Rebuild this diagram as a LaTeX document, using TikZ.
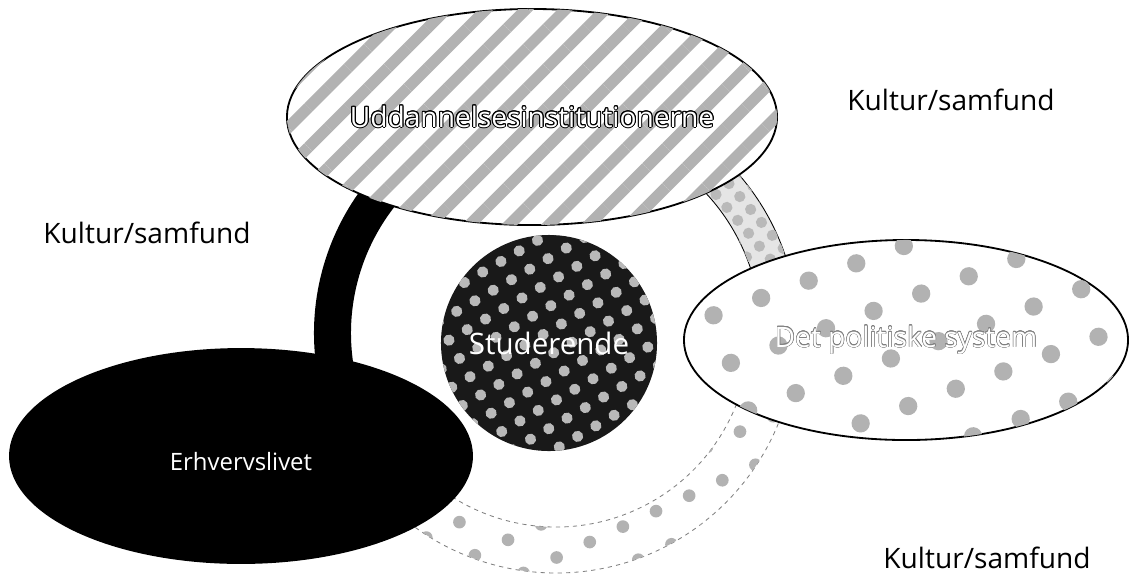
\documentclass[tikz,border=0pt]{standalone}
\usepackage{fontspec}
\setmainfont{Open Sans}
\usepackage{contour}
\usetikzlibrary{shapes.geometric,patterns.meta}
\contourlength{0.7pt}

\begin{document}
\begin{tikzpicture}[
  x=0.025cm, y=-0.025cm,
  every node/.style={font=\fontsize{20}{23}\selectfont},
  sphere/.style={ellipse,draw,line width=1.3pt,inner sep=0pt},
  kultur/.style={text=black},
]
  \useasboundingbox (0,0) rectangle (1130,575);
  \coordinate (hub) at (556,333);

  % ringen
  \filldraw[fill=gray!20,line width=0.6pt,
    postaction={pattern={Dots[radius=4pt,distance=12pt,angle=40]},pattern color=gray!55}]
    ([shift={(290:242)}]hub) arc[start angle=290,end angle=355,radius=242]
    -- ([shift={(355:205)}]hub) arc[start angle=355,end angle=290,radius=205] -- cycle;
  \filldraw[fill=white,draw=gray,line width=0.6pt,dashed,
    postaction={pattern={Dots[radius=4.5pt,distance=26pt,angle=25]},pattern color=gray!60}]
    ([shift={(0:240)}]hub) arc[start angle=0,end angle=150,radius=240]
    -- ([shift={(150:194)}]hub) arc[start angle=150,end angle=0,radius=194] -- cycle;
  \fill[black]
    ([shift={(160:242)}]hub) arc[start angle=160,end angle=240,radius=242]
    -- ([shift={(240:205)}]hub) arc[start angle=240,end angle=160,radius=205] -- cycle;

  \node[sphere,fill=white,minimum width=12.25cm,minimum height=5.4cm,
    postaction={pattern={Lines[angle=45,distance=20pt,line width=8pt]},pattern color=gray!60}]
    (uddannelse) at (532,117) {};
  \node[sphere,fill=white,minimum width=11.1cm,minimum height=5cm,
    postaction={pattern={Dots[radius=6.5pt,distance=36pt,angle=20]},pattern color=gray!60}]
    (politik) at (906,340) {};
  \node[sphere,fill=black,minimum width=11.55cm,minimum height=5.35cm]
    (erhverv) at (241,456) {};
  \node[circle,fill=black!90,minimum size=5.4cm,inner sep=0pt,
    postaction={pattern={Dots[radius=4pt,distance=15pt,angle=30]},pattern color=gray!55}]
    (studerende) at (549,343) {};

  \node at (uddannelse) {\contour{black}{\textcolor{white}{Uddannelsesinstitutionerne}}};
  \node at (politik) {\contourlength{0.3pt}\contour{gray}{\textcolor{white}{Det politiske system}}};
  \node[text=white,font=\fontsize{17}{20}\selectfont] at ([yshift=-0.15cm]erhverv) {Erhvervslivet};
  \node[text=white,font=\fontsize{21}{24}\selectfont] at (studerende) {Studerende};

  \node[kultur] (kulturV) at (147,233) {Kultur/samfund};
  \node[kultur] (kulturH) at (951,100) {Kultur/samfund};
  \node[kultur,anchor=base] (kulturN) at (987,568) {Kultur/samfund};
\end{tikzpicture}
\end{document}
